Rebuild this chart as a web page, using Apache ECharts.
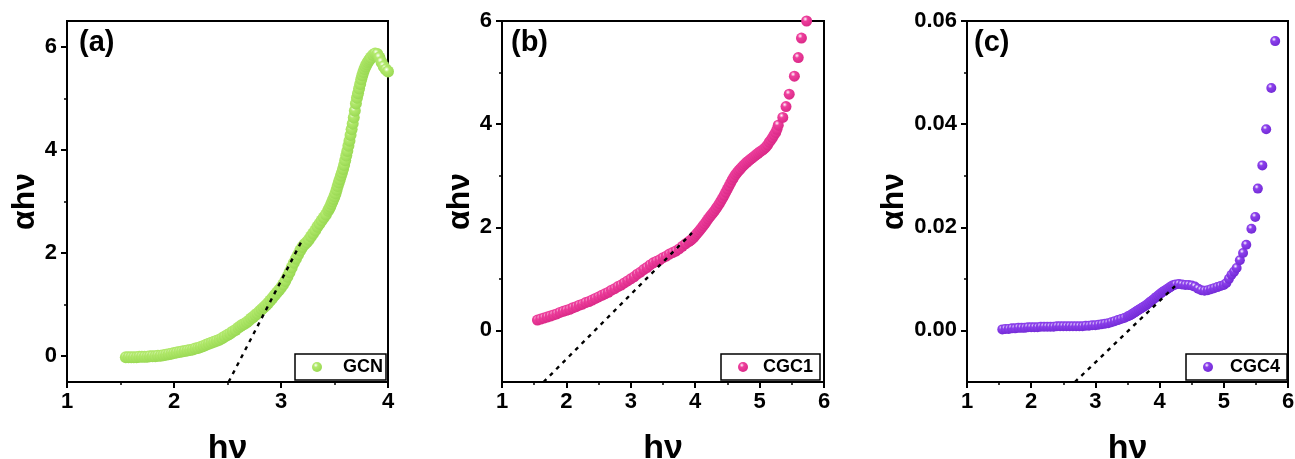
<!DOCTYPE html>
<html>
<head>
<meta charset="utf-8">
<script src="https://cdn.jsdelivr.net/npm/echarts@6/dist/echarts.min.js"></script>
<style>
  html, body { margin: 0; padding: 0; background: #fff; }
  #chart { width: 1295px; height: 459px; }
</style>
</head>
<body>
<div id="chart"></div>
<script>
// ---- (a) GCN ----
const gcnEnergy = [1.550,1.575,1.600,1.625,1.650,1.675,1.700,1.725,1.750,1.775,1.800,1.825,1.850,1.875,1.900,1.925,1.950,1.975,2.000,2.025,
  2.050,2.075,2.100,2.125,2.150,2.175,2.200,2.225,2.250,2.275,2.300,2.325,2.350,2.375,2.400,2.425,2.450,2.475,2.500,2.525,
  2.550,2.575,2.600,2.62,2.64,2.66,2.68,2.70,2.72,2.74,2.76,2.78,2.80,2.82,2.84,2.86,2.88,2.90,2.92,2.94,
  2.96,2.98,3.00,3.02,3.04,3.06,3.08,3.10,3.12,3.14,3.16,3.18,3.20,3.22,3.24,3.26,3.28,3.30,3.32,3.34,
  3.36,3.38,3.40,3.42,3.44,3.45,3.46,3.47,3.48,3.49,3.50,3.51,3.52,3.53,3.54,3.55,3.56,3.57,3.58,3.59,
  3.60,3.61,3.62,3.63,3.64,3.65,3.66,3.67,3.68,3.69,3.70,3.71,3.72,3.73,3.74,3.75,3.76,3.77,3.78,3.79,
  3.80,3.81,3.82,3.83,3.84,3.86,3.88,3.90,3.92,3.94,3.96,3.98,4.00];
const gcnAbs = [-0.02,-0.02,-0.02,-0.02,-0.02,-0.01,-0.01,-0.01,-0.01,0.00,0.00,0.00,0.01,0.01,0.02,0.03,0.04,0.05,0.06,0.07,
  0.08,0.09,0.10,0.11,0.12,0.13,0.15,0.16,0.18,0.20,0.22,0.24,0.26,0.28,0.30,0.32,0.35,0.38,0.41,0.44,
  0.48,0.51,0.55,0.58,0.61,0.63,0.66,0.69,0.73,0.76,0.80,0.83,0.87,0.91,0.95,0.99,1.03,1.08,1.13,1.18,
  1.23,1.28,1.33,1.39,1.46,1.54,1.63,1.72,1.81,1.89,1.97,2.05,2.12,2.17,2.21,2.26,2.32,2.38,2.44,2.51,
  2.57,2.63,2.69,2.75,2.82,2.86,2.90,2.95,3.00,3.05,3.10,3.16,3.23,3.30,3.37,3.43,3.50,3.56,3.63,3.71,
  3.80,3.89,3.98,4.08,4.18,4.29,4.40,4.51,4.63,4.76,4.90,5.01,5.10,5.19,5.28,5.37,5.45,5.51,5.57,5.62,
  5.66,5.70,5.73,5.76,5.79,5.84,5.87,5.86,5.79,5.70,5.62,5.56,5.52];
const gcnFitX = [2.51, 3.20];
const gcnFitY = [-0.5, 2.26];

// ---- (b) CGC1 ----
const cgc1Energy = [1.55,1.60,1.65,1.70,1.75,1.80,1.85,1.90,1.95,2.00,2.05,2.10,2.15,2.20,2.25,2.30,2.35,2.40,2.45,2.50,
  2.55,2.60,2.65,2.70,2.75,2.80,2.85,2.90,2.95,3.00,3.05,3.10,3.15,3.20,3.25,3.30,3.35,3.40,3.45,3.50,
  3.55,3.60,3.65,3.70,3.75,3.80,3.85,3.90,3.925,3.95,3.975,4.00,4.025,4.05,4.075,4.10,4.125,4.15,4.175,4.20,
  4.225,4.25,4.275,4.30,4.325,4.35,4.375,4.40,4.425,4.45,4.475,4.50,4.525,4.55,4.575,4.60,4.625,4.65,4.675,4.70,
  4.725,4.75,4.775,4.80,4.825,4.85,4.875,4.90,4.925,4.95,4.975,5.00,5.025,5.05,5.075,5.10,5.125,5.15,5.175,5.20,
  5.225,5.25,5.27,5.29,5.36,5.41,5.46,5.54,5.60,5.65,5.73];
const cgc1Abs = [0.20,0.22,0.24,0.26,0.28,0.30,0.32,0.35,0.37,0.39,0.41,0.44,0.46,0.49,0.51,0.54,0.56,0.59,0.62,0.65,
  0.68,0.71,0.74,0.78,0.81,0.85,0.88,0.92,0.96,1.00,1.04,1.09,1.13,1.18,1.22,1.27,1.31,1.34,1.37,1.41,
  1.44,1.48,1.51,1.54,1.58,1.63,1.68,1.72,1.745,1.77,1.80,1.84,1.875,1.91,1.95,1.99,2.03,2.07,2.115,2.16,
  2.20,2.24,2.28,2.32,2.365,2.41,2.46,2.51,2.565,2.62,2.68,2.74,2.80,2.86,2.92,2.97,3.02,3.06,3.10,3.13,
  3.165,3.20,3.23,3.26,3.285,3.31,3.335,3.36,3.385,3.41,3.435,3.46,3.48,3.50,3.53,3.56,3.60,3.65,3.69,3.74,
  3.79,3.84,3.90,3.98,4.13,4.34,4.58,4.93,5.29,5.67,6.00];
const cgc1FitX = [1.645, 3.95];
const cgc1FitY = [-1.0, 1.89];

// ---- (c) CGC4 ----
const cgc4Energy = [1.55,1.60,1.65,1.70,1.75,1.80,1.85,1.90,1.95,2.00,2.05,2.10,2.15,2.20,2.25,2.30,2.35,2.40,2.45,2.50,
  2.55,2.60,2.65,2.70,2.75,2.80,2.85,2.90,2.95,3.00,3.05,3.10,3.15,3.20,3.25,3.30,3.35,3.40,3.45,3.50,
  3.525,3.55,3.575,3.60,3.625,3.65,3.675,3.70,3.725,3.75,3.775,3.80,3.825,3.85,3.875,3.90,3.925,3.95,3.975,4.00,
  4.025,4.05,4.075,4.10,4.125,4.15,4.175,4.20,4.225,4.25,4.30,4.35,4.40,4.45,4.50,4.55,4.60,4.65,4.70,4.75,
  4.80,4.85,4.90,4.95,5.00,5.04,5.08,5.12,5.16,5.20,5.25,5.30,5.35,5.43,5.49,5.53,5.60,5.66,5.74,5.80];
const cgc4Abs = [0.0002,0.0003,0.0003,0.0004,0.0004,0.0005,0.0005,0.0005,0.0006,0.0006,0.0006,0.0006,0.0007,0.0007,0.0007,0.0007,0.0007,0.0008,0.0008,0.0008,
  0.0008,0.0008,0.0008,0.0008,0.0008,0.0008,0.0009,0.0009,0.0010,0.0010,0.0011,0.0012,0.0013,0.0014,0.0016,0.0018,0.0020,0.0022,0.0024,0.0027,
  0.00285,0.0030,0.0032,0.0034,0.0036,0.0038,0.0040,0.0042,0.0044,0.0046,0.0048,0.0050,0.00525,0.0055,0.00575,0.0060,0.00625,0.0065,0.00675,0.0070,
  0.00725,0.0075,0.0077,0.0079,0.0081,0.0083,0.0085,0.0087,0.0088,0.0089,0.0090,0.0089,0.0088,0.0088,0.0087,0.0085,0.0081,0.0078,0.0077,0.0078,
  0.0080,0.0082,0.0084,0.0086,0.0088,0.0092,0.0100,0.0108,0.0114,0.0121,0.0136,0.0150,0.0166,0.0197,0.0220,0.0275,0.0320,0.0390,0.0470,0.0561];
const cgc4FitX = [2.68, 4.24];
const cgc4FitY = [-0.010, 0.0086];

// ---- axis ranges and ticks ----
const xMaxA = 4, xMaxB = 6, xMaxC = 6;
const yRangeA = [-0.5, 6.5], yRangeB = [-1, 6], yRangeC = [-0.01, 0.06];
const yTicksA = [0, 2, 4, 6], yMinorA = [1, 3, 5];
const yTicksB = [0, 2, 4, 6], yMinorB = [1, 3, 5];
const yTicksC = [0, 0.02, 0.04, 0.06], yMinorC = [0.01, 0.03, 0.05];

const FONT = 'Liberation Sans, Arial, sans-serif';
const pairs = (xs, ys) => xs.map((x, i) => [x, ys[i]]);

// shaded ball marker
function sphere(base, dark) {
  return {
    type: 'radial', x: 0.38, y: 0.32, r: 0.72,
    colorStops: [
      { offset: 0, color: '#ffffff' },
      { offset: 0.3, color: base },
      { offset: 1, color: dark }
    ]
  };
}

const grids = [
  { left: 67, top: 21, width: 321, height: 361 },
  { left: 502, top: 21, width: 322, height: 361 },
  { left: 967, top: 21, width: 321, height: 361 }
].map(g => Object.assign(g, {
  show: true, borderColor: '#000', borderWidth: 2, backgroundColor: 'transparent',
  containLabel: false, outerBoundsMode: 'none'
}));

const axisLineStyle = { color: '#000', width: 2 };
const labelStyle = { color: '#000', fontFamily: FONT, fontWeight: 'bold', fontSize: 22 };
const xNameStyle = { color: '#000', fontFamily: FONT, fontWeight: 'bold', fontSize: 34 };
const yNameStyle = { color: '#000', fontFamily: FONT, fontWeight: 'bold', fontSize: 32 };

function xAxis(gridIndex, max) {
  return {
    type: 'value', gridIndex, min: 1, max, interval: 1,
    axisLine: { show: true, onZero: false, lineStyle: axisLineStyle },
    axisTick: { show: true, length: 6, lineStyle: axisLineStyle },
    minorTick: { show: true, splitNumber: 2, length: 3, lineStyle: { color: '#000', width: 1.5 } },
    axisLabel: Object.assign({ margin: 9 }, labelStyle),
    splitLine: { show: false },
    name: 'hν', nameLocation: 'middle', nameGap: 50, nameTextStyle: xNameStyle
  };
}

function yAxis(gridIndex, range, ticks, nameGap, decimals) {
  return {
    type: 'value', gridIndex, min: range[0], max: range[1], position: 'left',
    axisLine: { show: true, onZero: false, lineStyle: axisLineStyle },
    axisTick: { show: true, length: 6, lineStyle: axisLineStyle, customValues: ticks },
    axisLabel: Object.assign({ margin: 10, customValues: ticks, formatter: v => Number(v).toFixed(decimals) }, labelStyle),
    splitLine: { show: false },
    name: 'αhν', nameLocation: 'middle', nameRotate: 90, nameGap, nameTextStyle: yNameStyle
  };
}

function yMinorAxis(gridIndex, range, minor) {
  return {
    type: 'value', gridIndex, min: range[0], max: range[1], position: 'left',
    axisLine: { show: false, onZero: false },
    axisTick: { show: true, length: 3, lineStyle: { color: '#000', width: 1.5 }, customValues: minor },
    axisLabel: { show: false },
    splitLine: { show: false }
  };
}

function scatter(name, idx, data, size, base, dark) {
  return {
    name, type: 'scatter', xAxisIndex: idx, yAxisIndex: idx * 2,
    symbol: 'circle', symbolSize: size, data,
    itemStyle: { color: sphere(base, dark), opacity: 1 },
    emphasis: { disabled: true }, z: 2
  };
}

function fitLine(idx, xs, ys) {
  return {
    type: 'line', xAxisIndex: idx, yAxisIndex: idx * 2, data: pairs(xs, ys),
    symbol: 'none', silent: true, z: 3,
    lineStyle: { color: '#000', width: 2.4, type: [4, 5] }
  };
}

function legend(name, left, padding, textGap) {
  return {
    data: [name], left, top: 354, orient: 'horizontal',
    itemWidth: 10, itemHeight: 10, padding,
    borderColor: '#000', borderWidth: 1.5, backgroundColor: '#fff',
    selectedMode: false,
    textStyle: { color: '#000', fontFamily: FONT, fontWeight: 'bold', fontSize: 18, padding: [0, 0, 0, textGap] }
  };
}

function panelTitle(text, left) {
  return { text, left, top: 23, textStyle: { color: '#000', fontFamily: FONT, fontWeight: 'bold', fontSize: 29 } };
}

const option = {
  animation: false,
  backgroundColor: '#fff',
  grid: grids,
  title: [panelTitle('(a)', 74), panelTitle('(b)', 506), panelTitle('(c)', 969)],
  legend: [
    legend('GCN', 295, [4, 3, 4, 17], 16),
    legend('CGC1', 721, [4, 7, 4, 17], 10),
    legend('CGC4', 1186, [4, 7, 4, 17], 12)
  ],
  xAxis: [xAxis(0, xMaxA), xAxis(1, xMaxB), xAxis(2, xMaxC)],
  yAxis: [
    yAxis(0, yRangeA, yTicksA, 8, 0), yMinorAxis(0, yRangeA, yMinorA),
    yAxis(1, yRangeB, yTicksB, 14, 0), yMinorAxis(1, yRangeB, yMinorB),
    yAxis(2, yRangeC, yTicksC, 55, 2), yMinorAxis(2, yRangeC, yMinorC)
  ],
  series: [
    scatter('GCN', 0, pairs(gcnEnergy, gcnAbs), 12, '#b2e96c', '#98d852'),
    fitLine(0, gcnFitX, gcnFitY),
    scatter('CGC1', 1, pairs(cgc1Energy, cgc1Abs), 11, '#ee3f9d', '#d92886'),
    fitLine(1, cgc1FitX, cgc1FitY),
    scatter('CGC4', 2, pairs(cgc4Energy, cgc4Abs), 10, '#8c40ec', '#7129d4'),
    fitLine(2, cgc4FitX, cgc4FitY)
  ]
};

const chart = echarts.init(document.getElementById('chart'), null, { renderer: 'canvas' });
chart.setOption(option);
</script>
</body>
</html>
